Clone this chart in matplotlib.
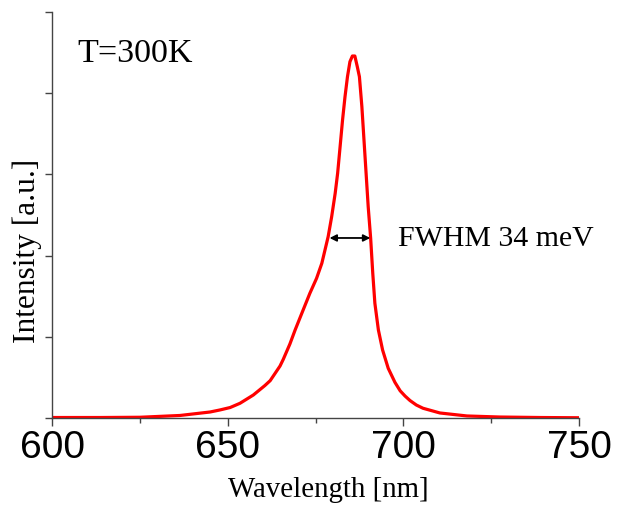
import matplotlib
matplotlib.use("Agg")
import matplotlib.pyplot as plt

# Spectrum (wavelength in nm, intensity in a.u.)
wavelength = [600.0, 613.7, 625.0, 636.4, 645.0, 647.8, 650.7, 653.5, 657.3, 660.6,
              662.1, 663.5, 664.9, 665.8, 667.7, 669.2, 671.1, 673.4, 675.3, 676.8,
              677.7, 678.6, 679.6, 680.6, 681.3, 682.0, 682.7, 683.4, 684.1, 684.8,
              685.5, 686.2, 686.9, 687.5, 688.2, 688.8, 689.4, 690.0, 690.7, 691.3,
              691.9, 692.9, 694.1, 695.7, 697.6, 699.1, 700.5, 701.9, 703.7, 705.6,
              710.4, 718.1, 727.5, 738.9, 750.0]
intensity = [0.006, 0.006, 0.009, 0.031, 0.074, 0.099, 0.129, 0.181, 0.283, 0.400,
             0.460, 0.550, 0.640, 0.720, 0.910, 1.084, 1.289, 1.536, 1.720, 1.905,
             2.069, 2.233, 2.479, 2.767, 3.014, 3.341, 3.670, 3.957, 4.203, 4.388,
             4.458, 4.458, 4.326, 4.203, 3.834, 3.424, 3.014, 2.602, 2.213, 1.782,
             1.413, 1.084, 0.837, 0.612, 0.440, 0.335, 0.270, 0.215, 0.160, 0.120,
             0.062, 0.025, 0.012, 0.006, 0.003]

x_ticks = [600, 650, 700, 750]
x_minor = [625, 675, 725]
y_ticks = [0, 1, 2, 3, 4, 5]
fwhm_left, fwhm_right, fwhm_level = 679.0, 690.6, 2.217
temp_label = "T=300K"
fwhm_label = "FWHM 34 meV"

serif = "Liberation Serif"
sans = "Liberation Sans"

fig = plt.figure(figsize=(6.19, 5.05), dpi=100)
ax = fig.add_axes([52/619, 1 - 418/505, 527/619, 406/505])

ax.plot(wavelength, intensity, color="#ff0000", lw=2.3,
        solid_joinstyle="round", solid_capstyle="round")

ax.set_xlim(600, 750)
ax.set_ylim(0, 5)
ax.set_xticks(x_ticks)
ax.set_xticks(x_minor, minor=True)
ax.set_yticks(y_ticks)
ax.set_yticklabels([])
ax.set_xticklabels([str(t) for t in x_ticks], fontfamily=sans, fontsize=28)

for s in ["top", "right"]:
    ax.spines[s].set_visible(False)
for s in ["left", "bottom"]:
    ax.spines[s].set_color("#444444")
    ax.spines[s].set_linewidth(1.0)

ax.tick_params(axis="x", which="major", direction="out", length=6, width=1.0,
               color="#444444", pad=3)
ax.tick_params(axis="x", which="minor", direction="out", length=3.8, width=1.0,
               color="#444444")
ax.tick_params(axis="y", which="major", direction="out", length=5, width=1.0,
               color="#444444")

ax.annotate("", xy=(fwhm_left, fwhm_level), xytext=(fwhm_right, fwhm_level),
            arrowprops=dict(arrowstyle="<|-|>", color="black", lw=1.3,
                            mutation_scale=10, shrinkA=0, shrinkB=0))

ax.text(607.2, 4.384, temp_label, fontfamily=serif, fontsize=24.5, va="baseline", ha="left")
ax.text(698.5, 2.118, fwhm_label, fontfamily=serif, fontsize=21.5, va="baseline", ha="left")

fig.text(328.5/619, 1 - 490/505, "Wavelength [nm]", fontfamily=serif, fontsize=20.8,
         ha="center", va="center")
fig.text(27/619, 1 - 250.5/505, "Intensity [a.u.]", fontfamily=serif, fontsize=22.6,
         rotation=90, ha="center", va="center")

fig.savefig("out.png", dpi=100)
